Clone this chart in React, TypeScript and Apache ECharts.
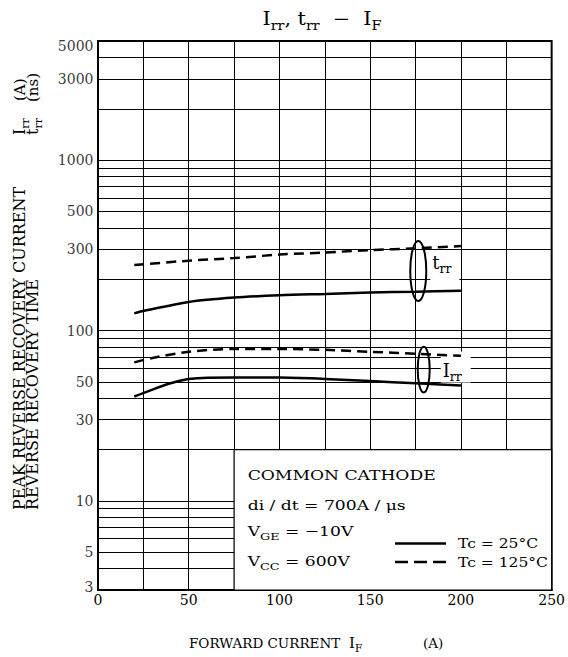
import React, { useEffect, useRef } from 'react';
import * as echarts from 'echarts';

// ---------- data ----------
const xTickLabels = [0, 50, 100, 150, 200, 250];
const yTickLabels = [5000, 3000, 1000, 500, 300, 100, 50, 30, 10, 5, 3];
const yGridValues = [
  4000, 3000, 2000, 1000, 900, 800, 700, 600, 500, 400, 300, 200,
  100, 90, 80, 70, 60, 50, 40, 30, 20, 10, 9, 8, 7, 6, 5, 4,
];

const trr25 = [[20, 126], [25, 130], [50, 147], [75, 156], [100, 161], [125, 164], [150, 167], [175, 169], [200, 171]];
const trr125 = [[20, 242], [50, 257], [75, 266], [100, 279], [125, 287], [150, 296], [175, 304], [200, 313]];
const irr25 = [[20, 41], [30, 45], [40, 49], [50, 52], [75, 53], [100, 53], [125, 52], [150, 50.5], [175, 49], [200, 47.5]];
const irr125 = [[20, 65], [30, 69], [50, 75], [75, 78], [100, 78], [125, 77], [150, 75], [175, 73], [200, 71]];

// annotation box (data coords): x 75..250, y 3..20
const boxFrom = [75, 20];
const boxTo = [250, 3];

const FONT = 'DejaVu Serif';

function richSub(F: number, S: number) {
  return {
    m: { fontSize: F, fontFamily: FONT, fill: '#000', lineHeight: F * 1.4 },
    s: { fontSize: S, fontFamily: FONT, fill: '#000', lineHeight: S * 1.2, verticalAlign: 'bottom' },
  };
}

function txt(x: number, y: number, text: string, F: number, S: number, opts: any = {}) {
  return {
    type: 'text',
    x,
    y,
    z: 20,
    silent: true,
    rotation: opts.rotation || 0,
    scaleX: opts.scaleX || 1,
    style: {
      text,
      x: 0,
      y: 0,
      align: opts.align || 'left',
      verticalAlign: 'middle',
      fontFamily: FONT,
      fontSize: F,
      fill: '#000',
      rich: richSub(F, S),
    },
  };
}

export default function App() {
  const ref = useRef<HTMLDivElement>(null);

  useEffect(() => {
    const chart = echarts.init(ref.current!, null, { renderer: 'svg' });
    const line = (data: number[][], dashed: boolean) => ({
      type: 'line',
      data,
      smooth: 0.3,
      symbol: 'none',
      silent: true,
      z: 4,
      lineStyle: { color: '#000', width: 2.5, type: dashed ? [10, 6] : 'solid' },
    });

    chart.setOption({
      animation: false,
      backgroundColor: '#fff',
      grid: {
        left: 98,
        right: 11,
        top: 41,
        bottom: 67,
        show: true,
        borderColor: '#000',
        borderWidth: 2,
        backgroundColor: 'transparent',
      },
      xAxis: {
        type: 'value',
        min: 0,
        max: 250,
        interval: 25,
        axisLine: { show: true, lineStyle: { color: '#000', width: 2 } },
        axisTick: { show: false },
        axisLabel: {
          margin: 3,
          fontFamily: FONT,
          fontSize: 14,
          color: '#000',
          formatter: (v: number) => (xTickLabels.includes(v) ? String(v) : ''),
        },
        splitLine: { show: true, lineStyle: { color: '#000', width: 1 } },
      },
      yAxis: {
        type: 'log',
        logBase: 10,
        min: 3,
        max: 5000,
        axisLine: { show: true, lineStyle: { color: '#000', width: 2 } },
        axisTick: { show: false },
        axisLabel: { show: false },
        splitLine: { show: false },
      },
      series: [
        {
          type: 'line',
          data: [],
          silent: true,
          markLine: {
            silent: true,
            z: 1,
            symbol: ['none', 'none'],
            label: { show: false },
            emphasis: { disabled: true },
            lineStyle: { color: '#000', width: 1, type: 'solid' },
            data: yGridValues.map((v) => ({ yAxis: v })),
          },
          markArea: {
            silent: true,
            z: 3,
            label: { show: false },
            itemStyle: { color: '#fff', borderColor: '#000', borderWidth: 1.2 },
            data: [[{ coord: boxFrom }, { coord: boxTo }]],
          },
        },
        {
          type: 'scatter',
          silent: true,
          symbolSize: 1,
          itemStyle: { color: 'transparent' },
          clip: false,
          z: 6,
          label: {
            show: true,
            position: 'left',
            distance: 4,
            fontFamily: FONT,
            fontSize: 14,
            color: '#000',
            formatter: (p: any) => String(p.value[1]),
          },
          data: yTickLabels.map((v) => ({
            value: [0, v],
            label: v === 5000 ? { offset: [0, 5] } : v === 3 ? { offset: [0, -3] } : {},
          })),
        },
        line(trr25, false),
        line(trr125, true),
        line(irr25, false),
        line(irr125, true),
      ],
    });

    const px = (x: number, y: number) => chart.convertToPixel({ gridIndex: 0 }, [x, y]) as number[];

    const tTop = px(176.5, 335);
    const tBot = px(176.5, 149);
    const tcx = tTop[0];
    const tcy = (tTop[1] + tBot[1]) / 2;
    const tr = (tBot[1] - tTop[1]) / 2;

    const iTop = px(179.5, 80.4);
    const iBot = px(179.5, 43.3);
    const icx = iTop[0];
    const icy = (iTop[1] + iBot[1]) / 2;
    const ir = (iBot[1] - iTop[1]) / 2;

    const S = 1.27;
    const elements: any[] = [
      // white backgrounds behind curve labels
      { type: 'rect', z: 2, silent: true, shape: { x: tcx + 12, y: tcy - 15, width: 29, height: 31 }, style: { fill: '#fff' } },
      { type: 'rect', z: 2, silent: true, shape: { x: icx + 17, y: icy - 18, width: 30, height: 31 }, style: { fill: '#fff' } },
      { type: 'ellipse', z: 20, silent: true, shape: { cx: tcx, cy: tcy, rx: 8, ry: tr }, style: { fill: 'transparent', stroke: '#000', lineWidth: 2 } },
      { type: 'ellipse', z: 20, silent: true, shape: { cx: icx, cy: icy, rx: 6, ry: ir }, style: { fill: 'transparent', stroke: '#000', lineWidth: 2 } },
      txt(tcx + 14, tcy - 9, '{m|t}{s|rr}', 18, 12.5),
      txt(icx + 19, icy + 1, '{m|I}{s|rr}', 18, 12.5),
      // title
      txt(322, 19, '{m|I}{s|rr}{m|, t}{s|rr}{m|  −  I}{s|F}', 18, 12.5, { align: 'center', scaleX: 1.15 }),
      // x axis name
      txt(189, 643, 'FORWARD CURRENT', 13.5, 9.5),
      txt(349, 643, '{m|I}{s|F}', 15, 10.5),
      txt(423, 643, '(A)', 13.5, 9.5),
      // y axis name (rotated)
      txt(19.5, 510, 'PEAK REVERSE RECOVERY CURRENT', 16, 11, { rotation: Math.PI / 2 }),
      txt(19.5, 135, '{m|I}{s|rr}', 16, 11, { rotation: Math.PI / 2 }),
      txt(19.5, 101, '(A)', 15, 11, { rotation: Math.PI / 2 }),
      txt(32.5, 510, 'REVERSE RECOVERY TIME', 16, 11, { rotation: Math.PI / 2 }),
      txt(32.5, 135, '{m|t}{s|rr}', 16, 11, { rotation: Math.PI / 2 }),
      txt(32.5, 102, '(ns)', 15, 11, { rotation: Math.PI / 2 }),
      // annotation box
      txt(247.7, 476, 'COMMON CATHODE', 13.5, 10, { scaleX: S }),
      txt(247.7, 506, 'di / dt = 700A / μs', 13.5, 10, { scaleX: S }),
      txt(247.7, 532, '{m|V}{s|GE}{m| = −10V}', 13.5, 10, { scaleX: S }),
      txt(247.7, 562, '{m|V}{s|CC}{m| = 600V}', 13.5, 10, { scaleX: S }),
      { type: 'line', z: 20, silent: true, shape: { x1: 395, y1: 543.5, x2: 446, y2: 543.5 }, style: { stroke: '#000', lineWidth: 2.5 } },
      { type: 'line', z: 20, silent: true, shape: { x1: 395, y1: 562, x2: 446, y2: 562 }, style: { stroke: '#000', lineWidth: 2.5, lineDash: [13, 6] } },
      txt(458, 543.5, 'Tc = 25°C', 13.5, 10, { scaleX: 1.15 }),
      txt(458, 562.5, 'Tc = 125°C', 13.5, 10, { scaleX: 1.15 }),
    ];
    chart.setOption({ graphic: { elements } });

    return () => chart.dispose();
  }, []);

  return (
    <div
      ref={ref}
      style={{ position: 'fixed', left: 0, top: 0, width: 568, height: 657, background: '#fff' }}
    />
  );
}
